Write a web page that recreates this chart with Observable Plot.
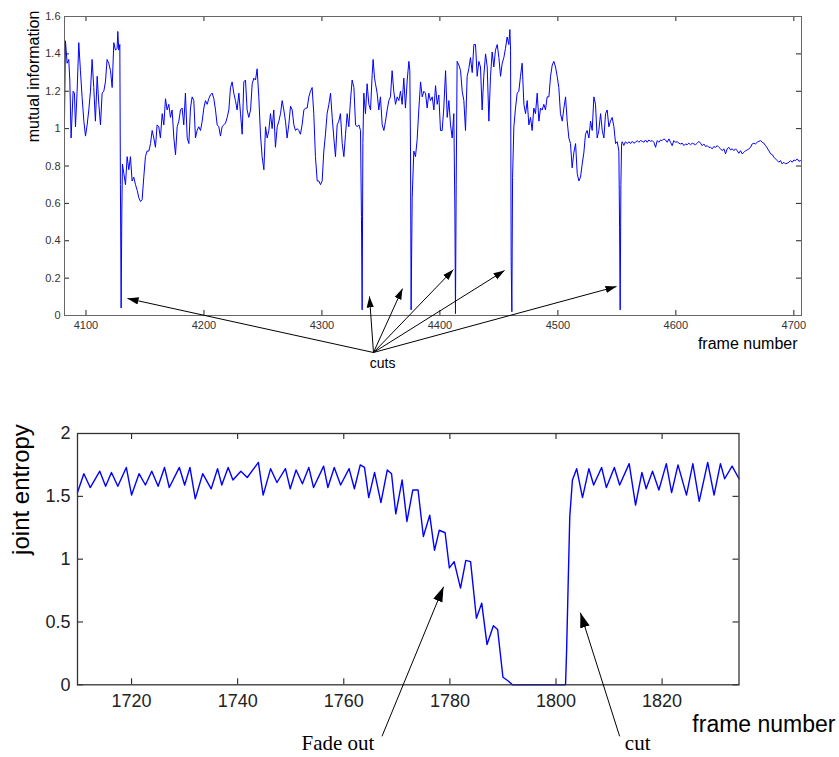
<!DOCTYPE html>
<html><head><meta charset="utf-8">
<script src="https://cdn.jsdelivr.net/npm/d3@7"></script>
<script src="https://cdn.jsdelivr.net/npm/@observablehq/plot@0.6"></script>
<style>
html,body{margin:0;padding:0;background:#fff;}
#chart{width:839px;height:757px;position:relative;overflow:hidden;background:#fff;}
#chart svg{display:block;}
</style></head><body><div id="chart"></div>
<script>
// ---------- data: top panel (mutual information) ----------
const miTicksX = [4100, 4200, 4300, 4400, 4500, 4600, 4700];
const miTicksY = [0, 0.2, 0.4, 0.6, 0.8, 1, 1.2, 1.4, 1.6];
const miDomainX = [4081.8, 4706.5];
const mutualInfo = [
[4081.8,1.04],[4082.6,1.47],[4084.0,1.35],[4085.4,1.37],[4086.3,1.26],[4087.4,0.95],[4089.1,1.20],[4090.2,1.19],[4091.1,1.01],[4092.5,1.20],
[4093.9,1.46],[4095.3,1.31],[4096.7,1.17],[4098.2,1.04],[4099.6,0.96],[4101.0,1.02],[4102.4,1.10],[4103.8,1.20],[4105.2,1.37],[4106.6,1.22],
[4108.0,1.04],[4109.5,1.28],[4110.9,1.13],[4112.3,1.02],[4113.7,1.19],[4115.1,1.20],[4116.5,1.25],[4117.9,1.37],[4119.3,1.35],[4120.8,1.31],
[4122.2,1.22],[4123.6,1.46],[4125.0,1.42],[4126.4,1.43],[4127.0,1.52],[4127.8,1.42],[4128.7,1.45],[4129.2,0.70],[4129.8,0.04],[4130.4,0.56],
[4130.9,0.81],[4132.1,0.76],[4133.5,0.70],[4134.9,0.85],[4136.3,0.78],[4137.7,0.85],[4139.1,0.72],[4140.5,0.74],[4142.0,0.70],[4143.4,0.67],
[4144.8,0.63],[4146.2,0.61],[4147.6,0.62],[4149.0,0.74],[4150.4,0.85],[4151.8,0.88],[4153.3,0.88],[4154.7,0.92],[4156.1,0.99],[4157.5,0.95],
[4158.9,0.90],[4160.3,1.02],[4161.7,1.01],[4163.1,0.95],[4164.6,1.08],[4166.0,1.02],[4167.4,1.16],[4168.8,1.10],[4170.2,1.13],[4171.6,1.06],
[4173.0,1.10],[4174.5,0.95],[4175.9,0.86],[4177.3,1.01],[4178.7,1.04],[4180.1,1.10],[4181.5,1.11],[4182.9,1.02],[4184.3,1.19],[4185.8,0.95],
[4187.2,0.92],[4188.6,1.11],[4190.0,1.17],[4191.4,1.15],[4192.8,0.95],[4194.2,0.99],[4195.6,1.01],[4197.1,0.99],[4198.5,1.04],[4199.9,1.11],
[4201.3,1.15],[4202.7,1.13],[4204.1,1.16],[4205.5,1.18],[4207.0,1.19],[4208.4,1.16],[4209.8,1.10],[4211.2,1.02],[4212.6,1.01],[4214.0,0.96],
[4215.4,1.01],[4216.8,1.02],[4218.3,1.03],[4219.7,1.06],[4221.1,1.10],[4222.5,1.22],[4223.9,1.25],[4225.3,1.19],[4226.7,1.15],[4228.1,1.10],
[4229.6,1.19],[4231.0,1.08],[4232.4,0.97],[4233.8,1.25],[4235.2,1.26],[4236.6,1.10],[4238.0,1.06],[4239.5,1.10],[4240.9,1.24],[4242.3,1.27],
[4243.7,1.26],[4245.1,1.32],[4246.5,1.17],[4247.9,0.97],[4249.3,0.85],[4250.8,0.78],[4252.2,1.01],[4253.6,0.95],[4255.0,0.99],[4256.4,1.08],
[4257.8,1.00],[4259.2,1.10],[4260.6,0.90],[4262.1,1.01],[4263.5,1.04],[4264.9,1.08],[4266.3,1.15],[4267.7,1.10],[4269.1,1.04],[4270.5,0.95],
[4271.9,1.02],[4273.4,1.12],[4274.8,1.10],[4276.2,1.02],[4277.6,0.99],[4279.0,1.00],[4280.4,0.99],[4281.8,0.97],[4283.2,1.02],[4284.7,1.10],
[4286.1,1.11],[4287.5,1.11],[4288.9,1.17],[4290.3,1.20],[4291.7,1.22],[4293.1,1.08],[4294.5,0.85],[4296.0,0.72],[4297.4,0.72],[4298.8,0.70],
[4300.2,0.72],[4301.6,0.88],[4303.0,0.97],[4304.4,1.08],[4305.9,1.13],[4307.3,1.19],[4308.7,1.06],[4310.1,0.95],[4311.5,0.85],[4312.9,1.02],
[4314.3,1.04],[4315.7,1.08],[4317.2,0.92],[4318.6,0.85],[4320.0,0.97],[4321.4,1.08],[4322.8,1.01],[4324.2,1.15],[4325.6,1.26],[4327.1,1.22],
[4328.5,1.02],[4329.9,1.01],[4331.3,1.02],[4332.7,0.99],[4333.5,0.53],[4334.1,0.03],[4334.7,0.92],[4335.5,1.19],[4336.9,1.08],[4338.3,1.24],
[4339.8,1.13],[4341.2,1.10],[4342.6,1.29],[4343.4,1.37],[4344.6,1.27],[4345.4,1.24],[4346.8,1.19],[4348.2,1.10],[4349.6,1.17],[4351.1,1.02],
[4352.5,0.99],[4353.9,1.04],[4355.3,1.10],[4356.7,1.15],[4358.1,1.17],[4359.5,1.31],[4360.9,1.20],[4362.4,1.13],[4363.8,1.17],[4365.2,1.15],
[4366.6,1.20],[4368.0,1.13],[4369.4,1.27],[4370.8,1.11],[4372.3,1.26],[4373.7,1.36],[4374.5,1.31],[4375.1,0.88],[4375.6,0.03],[4376.5,0.63],
[4377.9,0.88],[4379.3,0.85],[4380.7,0.94],[4382.1,1.10],[4383.6,1.25],[4385.0,1.17],[4386.4,1.20],[4387.8,1.19],[4389.2,1.11],[4390.6,1.19],
[4392.0,1.15],[4393.5,1.17],[4394.9,1.10],[4396.3,1.23],[4397.7,1.13],[4399.1,1.18],[4400.5,0.99],[4401.9,0.99],[4403.3,1.11],[4404.8,1.31],
[4406.2,1.06],[4407.6,1.15],[4409.0,1.02],[4410.4,0.95],[4411.8,1.08],[4412.7,0.56],[4413.2,0.01],[4413.8,0.70],[4414.6,1.36],[4416.1,1.34],
[4417.5,1.31],[4418.9,1.20],[4420.3,1.15],[4421.7,0.99],[4423.1,1.28],[4424.5,1.32],[4425.9,1.38],[4427.4,1.30],[4428.8,1.45],[4430.2,1.45],
[4431.6,1.28],[4433.0,1.36],[4434.4,1.33],[4435.8,1.10],[4437.2,1.28],[4438.7,1.40],[4440.1,1.33],[4441.5,1.04],[4442.9,1.28],[4444.3,1.41],
[4445.7,1.33],[4447.1,1.42],[4448.6,1.45],[4450.0,1.38],[4451.4,1.28],[4452.8,1.35],[4454.2,1.38],[4455.6,1.43],[4457.0,1.49],[4458.4,1.45],
[4459.3,1.53],[4459.9,1.42],[4460.4,0.29],[4461.0,0.02],[4461.6,0.74],[4462.7,1.01],[4464.1,1.11],[4465.5,1.19],[4466.9,1.20],[4468.3,1.28],
[4469.7,1.35],[4471.2,1.13],[4472.6,1.08],[4474.0,1.15],[4475.4,1.02],[4476.8,1.06],[4478.2,0.99],[4479.6,1.11],[4481.0,1.08],[4482.5,1.19],
[4483.9,1.04],[4485.3,1.11],[4486.7,1.10],[4488.1,1.13],[4489.5,1.10],[4490.9,1.17],[4492.4,1.17],[4493.8,1.28],[4495.2,1.34],[4496.6,1.36],
[4498.0,1.33],[4499.4,1.28],[4500.8,1.22],[4502.2,1.08],[4503.7,1.04],[4505.1,1.11],[4506.5,1.17],[4507.9,1.04],[4509.3,0.95],[4510.7,0.92],
[4512.1,0.79],[4513.5,0.87],[4515.0,0.92],[4516.4,0.76],[4517.8,0.72],[4519.2,0.74],[4520.6,0.81],[4522.0,0.87],[4523.4,0.97],[4524.8,0.99],
[4526.3,0.95],[4527.7,1.04],[4529.1,0.99],[4530.5,1.17],[4531.9,1.13],[4533.3,0.95],[4534.7,0.99],[4536.2,1.08],[4537.6,0.99],[4539.0,0.95],
[4540.4,1.08],[4541.8,1.10],[4543.2,1.01],[4544.6,1.04],[4546.0,1.06],[4547.5,1.01],[4548.9,0.92],[4550.3,0.93],[4551.7,0.88],[4552.3,0.47],
[4552.8,0.03],[4553.4,0.70],[4554.0,0.92],[4554.5,0.93],[4555.9,0.91],[4557.3,0.93],[4558.8,0.92],[4560.2,0.93],[4561.6,0.92],[4563.0,0.932],
[4564.4,0.922],[4565.8,0.927],[4567.2,0.936],[4568.6,0.927],[4570.1,0.936],[4571.5,0.932],[4572.9,0.927],[4574.3,0.939],[4575.7,0.927],[4577.1,0.939],
[4578.5,0.932],[4580.0,0.936],[4581.4,0.927],[4582.8,0.900],[4584.2,0.936],[4585.6,0.927],[4587.0,0.939],[4588.4,0.936],[4589.8,0.945],[4591.3,0.939],
[4592.7,0.927],[4594.1,0.945],[4595.5,0.927],[4596.9,0.909],[4598.3,0.936],[4599.7,0.927],[4601.1,0.930],[4602.6,0.922],[4604.0,0.918],[4605.4,0.922],
[4606.8,0.909],[4608.2,0.918],[4609.6,0.914],[4611.0,0.922],[4612.4,0.914],[4613.9,0.922],[4615.3,0.918],[4616.7,0.914],[4618.1,0.922],[4619.5,0.932],
[4620.9,0.922],[4622.3,0.909],[4623.7,0.918],[4625.2,0.904],[4626.6,0.909],[4628.0,0.900],[4629.4,0.900],[4630.8,0.892],[4632.2,0.904],[4633.6,0.900],
[4635.1,0.909],[4636.5,0.900],[4637.9,0.892],[4639.3,0.882],[4640.7,0.892],[4642.1,0.865],[4643.5,0.892],[4644.9,0.900],[4646.4,0.886],[4647.8,0.892],
[4649.2,0.882],[4650.6,0.892],[4652.0,0.882],[4653.4,0.868],[4654.8,0.882],[4656.2,0.865],[4657.7,0.873],[4659.1,0.882],[4660.5,0.886],[4661.9,0.892],
[4663.3,0.900],[4664.7,0.918],[4666.1,0.922],[4667.5,0.918],[4669.0,0.927],[4670.4,0.932],[4671.8,0.936],[4673.2,0.927],[4674.6,0.922],[4676.0,0.909],
[4677.4,0.897],[4678.8,0.882],[4680.3,0.865],[4681.7,0.861],[4683.1,0.847],[4684.5,0.838],[4685.9,0.829],[4687.3,0.820],[4688.7,0.829],[4690.1,0.811],
[4691.6,0.820],[4693.0,0.811],[4694.4,0.815],[4695.8,0.820],[4697.2,0.829],[4698.6,0.820],[4700.0,0.832],[4701.5,0.829],[4702.9,0.838],[4704.3,0.825],
[4705.7,0.829],[4706.5,0.826]
];
// annotation: the cuts (arrow tips in data space) and where the label sits
const cutNote = {label: "cuts", x: 4351.4, y: -0.258, fromX: 4343.7, fromY: -0.198};
const cutTips = [[4135.2,0.091],[4340.3,0.102],[4368.3,0.144],[4411.5,0.246],[4454.8,0.241],[4549.7,0.155]];

// ---------- data: bottom panel (joint entropy) ----------
const jeTicksX = [1720, 1740, 1760, 1780, 1800, 1820];
const jeTicksY = [0, 0.5, 1, 1.5, 2];
const jeDomainX = [1709.8, 1834.5];
const jointEntropy = [
[1709.8,1.53],[1711.0,1.68],[1712.2,1.57],[1714.0,1.70],[1715.1,1.58],[1716.2,1.69],[1717.4,1.58],[1719.0,1.73],[1720.0,1.51],[1721.4,1.68],
[1722.6,1.59],[1723.8,1.70],[1725.0,1.58],[1726.2,1.73],[1727.1,1.57],[1729.0,1.73],[1730.0,1.59],[1731.0,1.73],[1732.0,1.48],[1733.4,1.68],
[1735.0,1.56],[1736.2,1.72],[1737.0,1.59],[1738.2,1.73],[1739.1,1.63],[1740.6,1.70],[1741.8,1.65],[1743.9,1.77],[1744.8,1.51],[1746.2,1.72],
[1747.4,1.61],[1749.0,1.72],[1749.9,1.56],[1751.0,1.71],[1752.2,1.60],[1753.4,1.73],[1754.3,1.57],[1756.2,1.74],[1757.0,1.57],[1758.2,1.73],
[1759.4,1.59],[1761.0,1.72],[1762.0,1.56],[1763.1,1.75],[1763.9,1.73],[1764.7,1.49],[1765.8,1.69],[1767.0,1.45],[1768.2,1.71],[1769.0,1.68],
[1769.8,1.36],[1771.0,1.63],[1771.9,1.30],[1773.0,1.55],[1774.0,1.55],[1775.0,1.18],[1776.2,1.35],[1777.1,1.07],[1778.0,1.23],[1779.1,1.21],
[1779.9,0.93],[1780.8,0.98],[1782.0,0.77],[1783.0,0.99],[1783.9,0.98],[1785.0,0.53],[1786.0,0.65],[1787.0,0.32],[1788.2,0.47],[1789.0,0.44],
[1790.0,0.06],[1791.0,0.03],[1791.8,0],[1801.8,0],[1802.0,0.27],[1802.3,0.81],[1802.6,1.34],[1803.1,1.63],[1803.9,1.72],[1805.0,1.49],
[1806.2,1.72],[1807.1,1.59],[1808.6,1.73],[1809.5,1.57],[1811.0,1.73],[1812.0,1.59],[1813.8,1.76],[1815.0,1.43],[1816.2,1.69],[1817.0,1.56],
[1818.2,1.70],[1819.4,1.55],[1820.8,1.76],[1821.8,1.53],[1823.0,1.75],[1824.6,1.51],[1825.8,1.76],[1827.0,1.46],[1828.6,1.77],[1829.8,1.51],
[1831.0,1.76],[1831.8,1.64],[1833.2,1.74],[1834.5,1.64]
];
const jeNotes = [
  {label: "Fade out", x: 1758.9, y: -0.462, fromX: 1767.2, fromY: -0.41, toX: 1778.8, toY: 0.78},
  {label: "cut",      x: 1815.4, y: -0.462, fromX: 1812.0, fromY: -0.41, toX: 1804.6, toY: 0.574}
];

// ---------- helpers ----------
function filledArrowheads(svg, len) {
  svg.querySelectorAll("marker").forEach(m => {
    m.setAttribute("viewBox", "-10 -5 10 10");
    m.setAttribute("markerUnits", "userSpaceOnUse");
    m.setAttribute("markerWidth", len);
    m.setAttribute("markerHeight", len);
    m.setAttribute("fill", "black");
    m.setAttribute("stroke", "none");
    m.innerHTML = '<path d="M-10,-3.3L0,0L-10,3.3Z"></path>';
  });
}
const sans = "'Liberation Sans', Arial, Helvetica, sans-serif";
const serif = "'Liberation Serif', 'Times New Roman', serif";

// ---------- top panel ----------
const T = {w: 839, h: 380, mt: 16, mr: 38, mb: 65, ml: 64};
const tFH = T.h - T.mt - T.mb, tFW = T.w - T.ml - T.mr, tTick = 5;
const topPlot = Plot.plot({
  width: T.w, height: T.h,
  marginTop: T.mt, marginRight: T.mr, marginBottom: T.mb, marginLeft: T.ml,
  style: {fontFamily: sans, fontSize: "11px", color: "#333", background: "white"},
  x: {domain: miDomainX},
  y: {domain: [0, 1.6]},
  marks: [
    Plot.tickX(miTicksX, {x: d => d, insetTop: tFH - tTick, stroke: "#222"}),
    Plot.tickX(miTicksX, {x: d => d, insetBottom: tFH - tTick, stroke: "#222"}),
    Plot.tickY(miTicksY, {y: d => d, insetRight: tFW - tTick, stroke: "#222"}),
    Plot.tickY(miTicksY, {y: d => d, insetLeft: tFW - tTick, stroke: "#222"}),
    Plot.axisX(miTicksX, {tickSize: 0, tickPadding: 6, tickFormat: d => String(d), label: null, fontSize: 11}),
    Plot.axisY(miTicksY, {tickSize: 0, tickPadding: 4, tickFormat: d => String(d), label: null, fontSize: 11}),
    Plot.line(mutualInfo, {x: d => d[0], y: d => d[1], stroke: "#0000ff", strokeWidth: 1}),
    Plot.frame({stroke: "#666"}),
    Plot.link(cutTips, {x1: () => cutNote.fromX, y1: () => cutNote.fromY, x2: d => d[0], y2: d => d[1],
      stroke: "black", strokeWidth: 1, markerEnd: "arrow"}),
    Plot.text([cutNote], {x: "x", y: "y", text: "label", fontSize: 14, fill: "black", lineAnchor: "middle"}),
    Plot.text(["frame number"], {frameAnchor: "bottom-right", dx: -4, dy: 28, textAnchor: "end", lineAnchor: "middle", fontSize: 16, fill: "black"}),
    Plot.text(["mutual information"], {frameAnchor: "top-left", dx: -31, dy: 60, rotate: -90, textAnchor: "middle", lineAnchor: "middle", fontSize: 16, fill: "black"})
  ]
});
filledArrowheads(topPlot, 11);

// ---------- bottom panel ----------
const B = {w: 839, h: 377, mt: 53, mr: 100.5, mb: 72.7, ml: 77};
const bFH = B.h - B.mt - B.mb, bFW = B.w - B.ml - B.mr, bTick = 6;
const botPlot = Plot.plot({
  width: B.w, height: B.h,
  marginTop: B.mt, marginRight: B.mr, marginBottom: B.mb, marginLeft: B.ml,
  style: {fontFamily: sans, fontSize: "18px", color: "#222", background: "white"},
  x: {domain: jeDomainX},
  y: {domain: [0, 2]},
  marks: [
    Plot.tickX(jeTicksX, {x: d => d, insetTop: bFH - bTick, stroke: "#111"}),
    Plot.tickX(jeTicksX, {x: d => d, insetBottom: bFH - bTick, stroke: "#111"}),
    Plot.tickY(jeTicksY, {y: d => d, insetRight: bFW - bTick, stroke: "#111"}),
    Plot.tickY(jeTicksY, {y: d => d, insetLeft: bFW - bTick, stroke: "#111"}),
    Plot.axisX(jeTicksX, {tickSize: 0, tickPadding: 9, tickFormat: d => String(d), label: null, fontSize: 18}),
    Plot.axisY(jeTicksY, {tickSize: 0, tickPadding: 7, tickFormat: d => String(d), label: null, fontSize: 18}),
    Plot.line(jointEntropy, {x: d => d[0], y: d => d[1], stroke: "#0000ff", strokeWidth: 1.4}),
    Plot.frame({stroke: "#333", strokeWidth: 1.3}),
    Plot.link(jeNotes, {x1: "fromX", y1: "fromY", x2: "toX", y2: "toY", stroke: "black", strokeWidth: 1, markerEnd: "arrow"}),
    Plot.text(jeNotes, {x: "x", y: "y", text: "label", fontFamily: serif, fontSize: 21, fill: "black", lineAnchor: "middle"}),
    Plot.text(["frame number"], {frameAnchor: "bottom-right", dx: 96.5, dy: 40, textAnchor: "end", lineAnchor: "middle", fontSize: 23, fill: "black"}),
    Plot.text(["joint entropy"], {frameAnchor: "top-left", dx: -56.5, dy: 56, rotate: -90, textAnchor: "middle", lineAnchor: "middle", fontSize: 24, fill: "black"})
  ]
});
filledArrowheads(botPlot, 15);

const chart = document.getElementById("chart");
chart.appendChild(topPlot);
chart.appendChild(botPlot);
</script>
</body></html>
